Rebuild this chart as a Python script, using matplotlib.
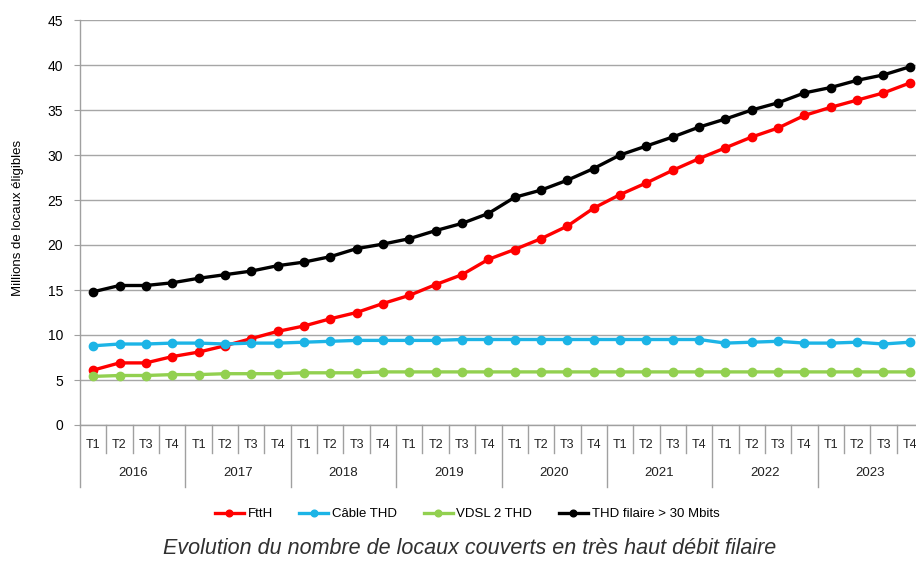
import matplotlib
matplotlib.use('Agg')
import matplotlib.pyplot as plt
import matplotlib.transforms as mtransforms
from matplotlib import font_manager

installed = {f.name for f in font_manager.fontManager.ttflist}
fam = 'Liberation Sans Narrow' if 'Liberation Sans Narrow' in installed else 'Liberation Sans'
plt.rcParams['font.family'] = [fam, 'DejaVu Sans']

years = ['2016', '2017', '2018', '2019', '2020', '2021', '2022', '2023']
quarters = ['T1', 'T2', 'T3', 'T4']

ftth = [6.1, 6.9, 6.9, 7.6, 8.1, 8.8, 9.6, 10.4, 11.0, 11.8, 12.5, 13.5, 14.4, 15.6, 16.7, 18.4,
        19.5, 20.7, 22.1, 24.1, 25.6, 26.9, 28.3, 29.6, 30.8, 32.0, 33.0, 34.4, 35.3, 36.1, 36.9, 38.0]
cable = [8.8, 9.0, 9.0, 9.1, 9.1, 9.0, 9.1, 9.1, 9.2, 9.3, 9.4, 9.4, 9.4, 9.4, 9.5, 9.5,
         9.5, 9.5, 9.5, 9.5, 9.5, 9.5, 9.5, 9.5, 9.1, 9.2, 9.3, 9.1, 9.1, 9.2, 9.0, 9.2]
vdsl = [5.4, 5.5, 5.5, 5.6, 5.6, 5.7, 5.7, 5.7, 5.8, 5.8, 5.8, 5.9, 5.9, 5.9, 5.9, 5.9,
        5.9, 5.9, 5.9, 5.9, 5.9, 5.9, 5.9, 5.9, 5.9, 5.9, 5.9, 5.9, 5.9, 5.9, 5.9, 5.9]
thd = [14.8, 15.5, 15.5, 15.8, 16.3, 16.7, 17.1, 17.7, 18.1, 18.7, 19.6, 20.1, 20.7, 21.6, 22.4, 23.5,
       25.3, 26.1, 27.2, 28.5, 30.0, 31.0, 32.0, 33.1, 34.0, 35.0, 35.8, 36.9, 37.5, 38.3, 38.9, 39.8]

series = [
    ('FttH', ftth, '#FF0000'),
    ('Câble THD', cable, '#1CB4E6'),
    ('VDSL 2 THD', vdsl, '#92D050'),
    ('THD filaire > 30 Mbits', thd, '#000000'),
]

W, H = 916, 562
fig = plt.figure(figsize=(W / 100, H / 100), dpi=100)
ax = fig.add_axes([80 / W, 137 / H, 843 / W, 405 / H])

n = len(years) * len(quarters)
x = list(range(n))
for name, vals, col in series:
    ax.plot(x, vals, '-o', color=col, label=name, linewidth=2.4, markersize=6)

ax.set_xlim(-0.5, n - 0.5)
ax.set_ylim(0, 45)
ax.set_yticks(range(0, 46, 5))
ax.tick_params(axis='y', labelsize=10, length=4, color='#A0A0A0', pad=8)
ax.set_xticks([])
ax.grid(axis='y', color='#A6A6A6', linewidth=1)
ax.set_axisbelow(True)
for s in ['top', 'right']:
    ax.spines[s].set_visible(False)
for s in ['left', 'bottom']:
    ax.spines[s].set_color('#A0A0A0')
    ax.spines[s].set_linewidth(1)

# two level category axis
tr = mtransforms.blended_transform_factory(ax.transData, ax.transAxes)
for i in range(n + 1):
    depth = -62 / 405 if i % 4 == 0 else -28 / 405
    ax.plot([i - 0.5, i - 0.5], [0, depth], color='#A0A0A0', lw=1,
            transform=tr, clip_on=False)
for i in range(n):
    ax.text(i, -20 / 405, quarters[i % 4], transform=tr, ha='center', va='center',
            fontsize=9, color='#202020')
for k, yr in enumerate(years):
    ax.text(4 * k + 1.5, -48 / 405, yr, transform=tr, ha='center', va='center',
            fontsize=9.5, color='#202020')

fig.text(18 / W, 1 - 218 / H, 'Millions de locaux éligibles', rotation=90,
         ha='center', va='center', fontsize=9.5)

fig.legend(loc='center', bbox_to_anchor=(467 / W, 1 - 514 / H), ncol=4, frameon=False,
           fontsize=9.5, handlelength=2.2, columnspacing=2.0, handletextpad=0.3,
           markerscale=0.8)

fig.text(470 / W, 1 - 549 / H, 'Evolution du nombre de locaux couverts en très haut débit filaire',
         ha='center', va='center', fontsize=15.5, style='italic', color='#303030')

fig.savefig('out.png', dpi=100)
